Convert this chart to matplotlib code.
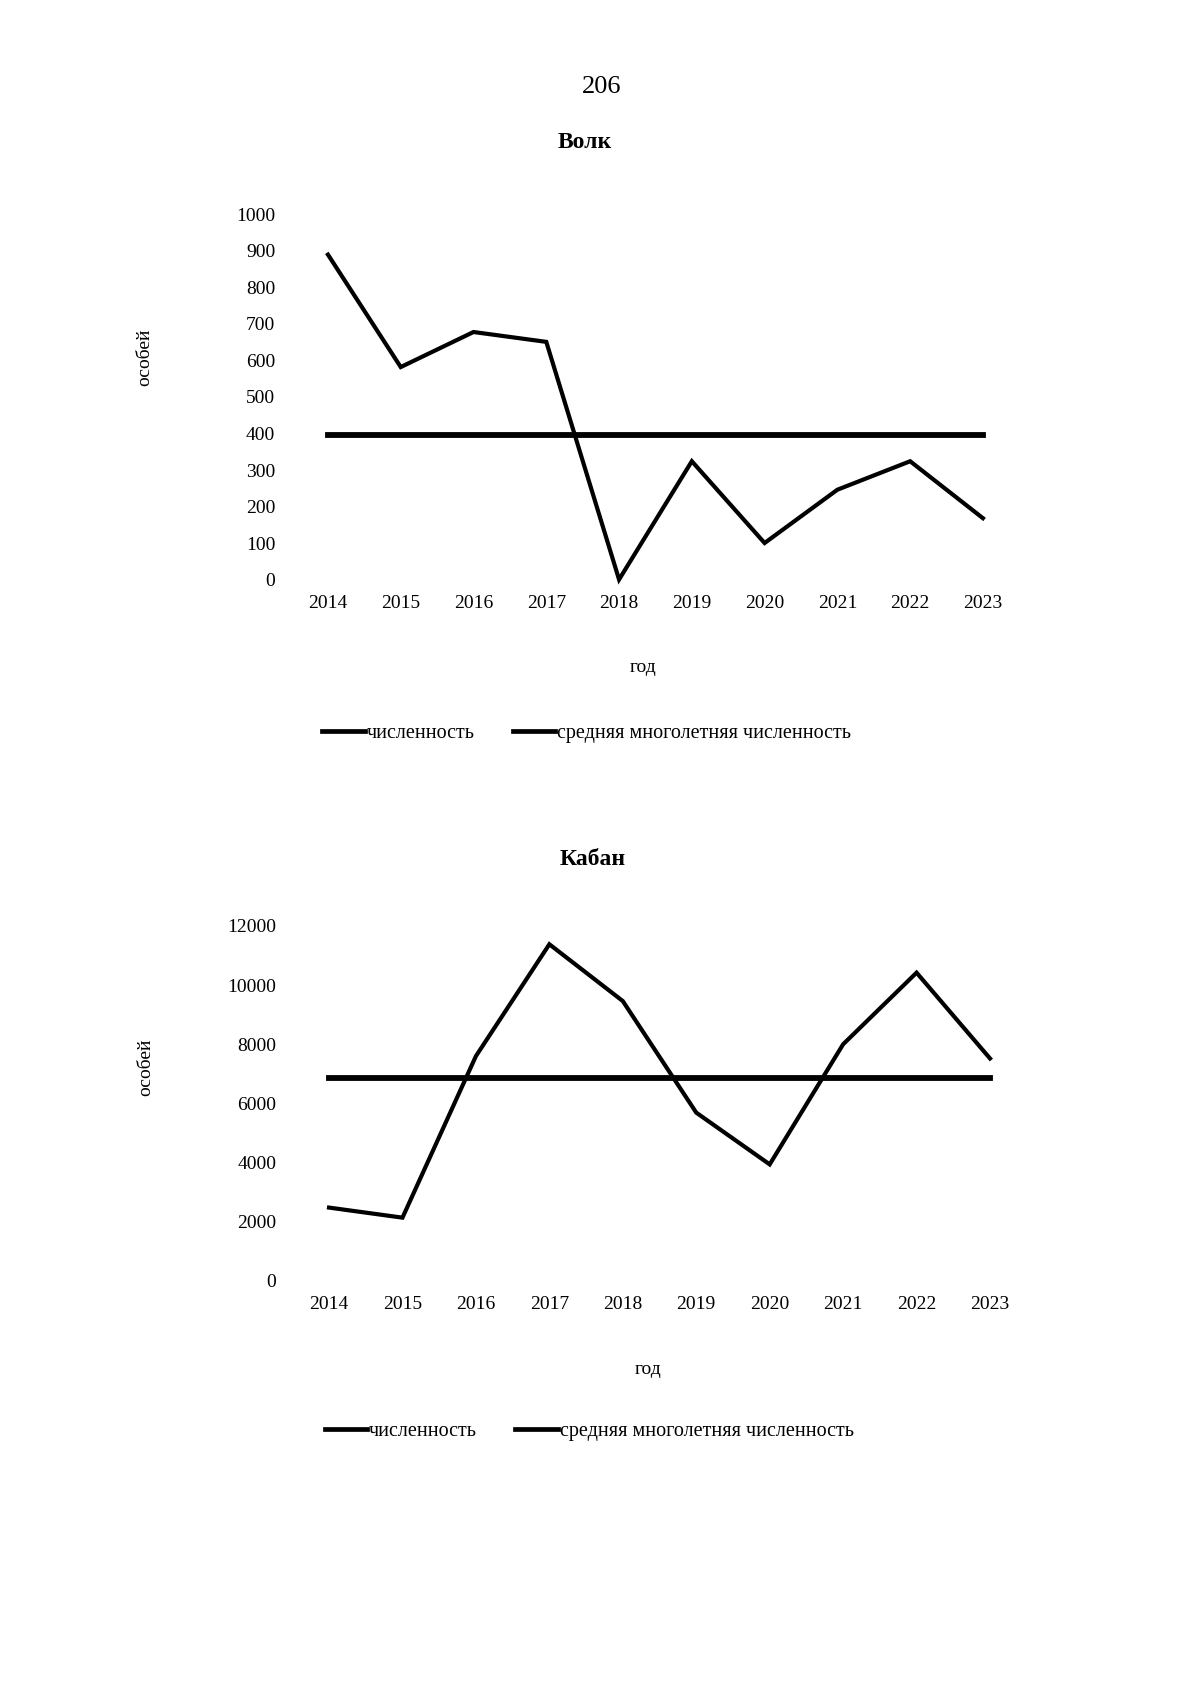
import matplotlib
matplotlib.use('Agg')
import matplotlib.pyplot as plt
from matplotlib.lines import Line2D

plt.rcParams['font.family'] = ['Liberation Serif', 'DejaVu Serif']

# Data
years = ['2014', '2015', '2016', '2017', '2018', '2019', '2020', '2021', '2022', '2023']
wolf = [890, 582, 678, 651, 0, 324, 100, 246, 324, 168]
wolf_mean = 396
boar = [2480, 2140, 7600, 11380, 9460, 5690, 3940, 8000, 10420, 7520]
boar_mean = 6863

page_number = '206'
wolf_title = 'Волк'
boar_title = 'Кабан'
ylabel_text = 'особей'
xlabel_text = 'год'
legend_labels = ['численность', 'средняя многолетняя численность']

fig = plt.figure(figsize=(12, 16.98), dpi=100)
fig.text(0.501, 0.9488, page_number, ha='center', va='center', fontsize=19)


def draw_panel(rect, values, mean, yticks, title, title_xy, label_xy, leg_xy):
    ax = fig.add_axes(rect)
    x = list(range(len(years)))
    ax.plot(x, values, color='black', lw=3.0, clip_on=False, solid_joinstyle='miter')
    ax.plot(x, [mean] * len(x), color='black', lw=4.2, clip_on=False)
    ax.set_xlim(0, len(years) - 1)
    ax.set_ylim(yticks[0], yticks[-1])
    ax.set_xticks(x)
    ax.set_xticklabels(years)
    ax.set_yticks(yticks)
    ax.tick_params(axis='y', length=0, pad=38, labelsize=14)
    ax.tick_params(axis='x', length=0, pad=11, labelsize=14)
    for s in ax.spines.values():
        s.set_visible(False)
    ax.set_ylabel(ylabel_text, fontsize=14)
    ax.yaxis.set_label_coords(label_xy[0], label_xy[1])
    ax.set_xlabel(xlabel_text, fontsize=14)
    ax.xaxis.set_label_coords(label_xy[2], label_xy[3])
    fig.text(title_xy[0], title_xy[1], title, ha='center', va='center',
             fontsize=17, fontweight='bold')
    handles = [Line2D([], [], color='black', lw=3.4) for _ in legend_labels]
    fig.legend(handles, legend_labels, loc='center', bbox_to_anchor=leg_xy,
               ncol=2, frameon=False, fontsize=14.5, handlelength=2.1,
               handletextpad=0.1, columnspacing=1.9)
    return ax


draw_panel([0.2733, 0.6587, 0.5458, 0.2150], wolf, wolf_mean,
           list(range(0, 1001, 100)), wolf_title, (0.4875, 0.9158),
           (-0.266, 0.61, 0.481, -0.219), (0.489, 0.5683))

draw_panel([0.2742, 0.2456, 0.5508, 0.2091], boar, boar_mean,
           list(range(0, 12001, 2000)), boar_title, (0.4935, 0.4941),
           (-0.265, 0.603, 0.482, -0.224), (0.491, 0.1567))

fig.savefig('out.png', dpi=100)
